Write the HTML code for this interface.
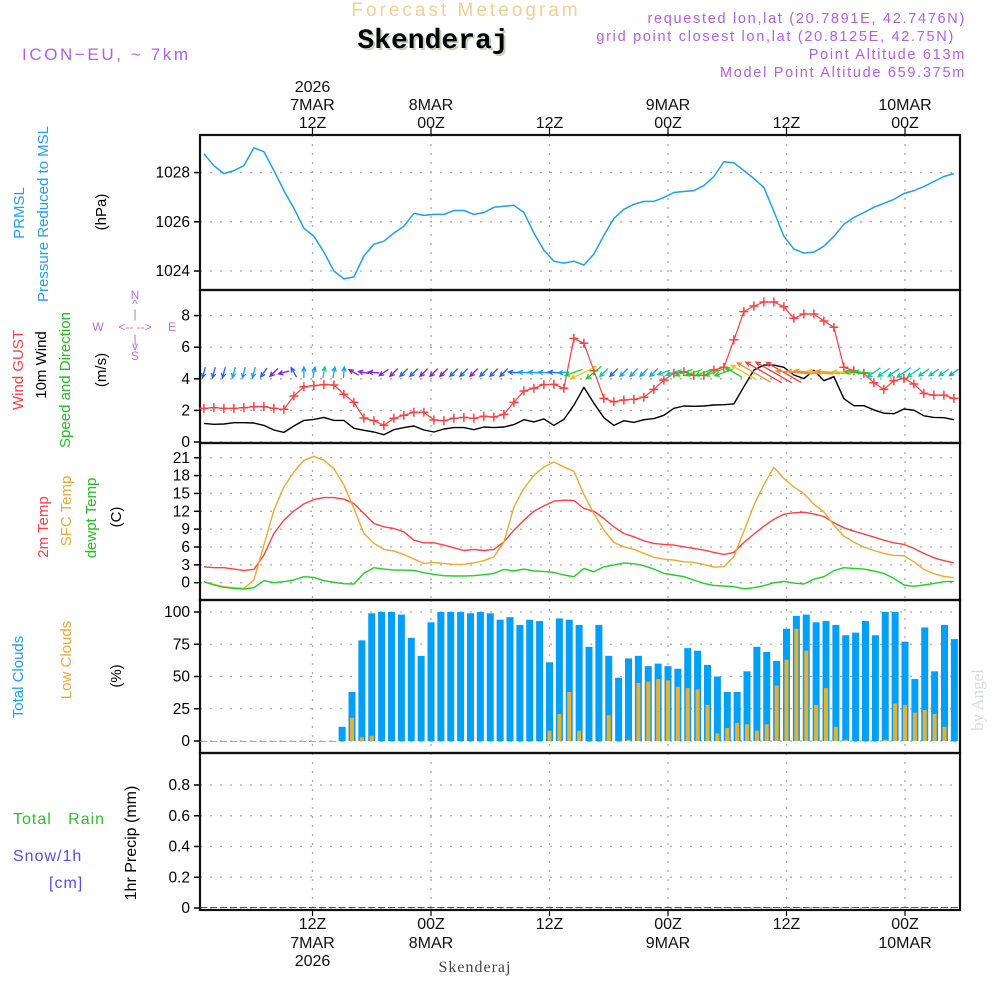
<!DOCTYPE html>
<html><head><meta charset="utf-8"><style>
html,body{margin:0;padding:0;background:#fff;}
svg{display:block;font-family:"Liberation Sans",sans-serif;}
</style></head><body>
<svg id="chart" width="1000" height="1000" viewBox="0 0 1000 1000">
<text x="466" y="16" font-size="19" fill="#f5cf8f" text-anchor="middle" letter-spacing="3">Forecast Meteogram</text>
<text x="435" y="50" font-size="28" font-weight="bold" fill="#c8d0c0" text-anchor="middle" font-family="Liberation Mono,monospace">Skenderaj</text>
<text x="433" y="48" font-size="28" font-weight="bold" fill="#000" text-anchor="middle" font-family="Liberation Mono,monospace">Skenderaj</text>
<text x="22" y="60" font-size="17" fill="#b060f0" letter-spacing="2.6">ICON−EU, ~ 7km</text>
<g font-size="14.5" fill="#b060f0" text-anchor="end" letter-spacing="1.7">
<text x="966" y="23">requested lon,lat (20.7891E, 42.7476N)</text>
<text x="955" y="41">grid point closest lon,lat (20.8125E, 42.75N)</text>
<text x="966" y="59">Point Altitude 613m</text>
<text x="966" y="77">Model Point Altitude 659.375m</text>
</g>
<!-- left labels -->
<g font-size="15">
<text transform="translate(24,213) rotate(-90)" text-anchor="middle" fill="#1ea0f0">PRMSL</text>
<text transform="translate(48,214) rotate(-90)" text-anchor="middle" fill="#1ea0f0">Pressure Reduced to MSL</text>
<text transform="translate(106,212) rotate(-90)" text-anchor="middle" fill="#000">(hPa)</text>
<text transform="translate(23,370) rotate(-90)" text-anchor="middle" fill="#ff4040">Wind GUST</text>
<text transform="translate(46,365) rotate(-90)" text-anchor="middle" fill="#000">10m Wind</text>
<text transform="translate(70,380) rotate(-90)" text-anchor="middle" fill="#20c020">Speed and Direction</text>
<text transform="translate(106,370) rotate(-90)" text-anchor="middle" fill="#000">(m/s)</text>
<text transform="translate(48,527) rotate(-90)" text-anchor="middle" fill="#ff4040">2m Temp</text>
<text transform="translate(71,511) rotate(-90)" text-anchor="middle" fill="#f0a830">SFC Temp</text>
<text transform="translate(96,518) rotate(-90)" text-anchor="middle" fill="#20c020">dewpt Temp</text>
<text transform="translate(121,517) rotate(-90)" text-anchor="middle" fill="#000">(C)</text>
<text transform="translate(23,677) rotate(-90)" text-anchor="middle" fill="#1ea0f0">Total Clouds</text>
<text transform="translate(71,660) rotate(-90)" text-anchor="middle" fill="#f0a830">Low Clouds</text>
<text transform="translate(121,676) rotate(-90)" text-anchor="middle" fill="#000">(%)</text>
<text x="13" y="824" fill="#30c030" font-size="16" letter-spacing="1" xml:space="preserve">Total   Rain</text>
<text x="13" y="861" fill="#5050f0" font-size="16" letter-spacing="1">Snow/1h</text>
<text x="49" y="888" fill="#5050f0" font-size="16" letter-spacing="1">[cm]</text>
<text transform="translate(136,843) rotate(-90)" text-anchor="middle" fill="#000" font-size="16">1hr Precip (mm)</text>
</g>
<g font-size="12" fill="#b070f0" text-anchor="middle">
<text x="135" y="299">N</text><text x="135" y="308">^</text><text x="135" y="318">|</text>
<text x="98" y="331">W</text><text x="135" y="331" xml:space="preserve">&lt;-- --&gt;</text><text x="172" y="331">E</text>
<text x="135" y="343">|</text><text x="135" y="350">v</text><text x="135" y="360">S</text>
</g>
<text transform="translate(983,700) rotate(-90)" font-size="17" fill="#d8dcd8" text-anchor="middle" font-family="Liberation Serif,serif">by Angel</text>
<text x="475" y="972" font-size="16" fill="#444" text-anchor="middle" letter-spacing="1" font-family="Liberation Serif,serif">Skenderaj</text>
<g id="plot"></g>
</svg>
<script>
// ---- data (samples ~hourly, starting 01Z 7MAR) ----
const pressure = [1028.77,1028.28,1027.96,1028.08,1028.28,1029.01,1028.85,1028.08,1027.27,1026.55,1025.74,1025.41,1024.77,1024.0,1023.68,1023.76,1024.61,1025.09,1025.21,1025.54,1025.82,1026.34,1026.26,1026.30,1026.30,1026.46,1026.46,1026.30,1026.38,1026.59,1026.63,1026.67,1026.38,1025.54,1024.85,1024.40,1024.32,1024.40,1024.24,1024.69,1025.45,1026.14,1026.51,1026.71,1026.83,1026.83,1026.99,1027.19,1027.23,1027.27,1027.47,1027.84,1028.44,1028.40,1028.08,1027.76,1027.39,1026.42,1025.41,1024.89,1024.73,1024.77,1025.01,1025.41,1025.90,1026.18,1026.38,1026.59,1026.75,1026.91,1027.15,1027.27,1027.43,1027.64,1027.84,1027.96];
const windSpeed = [1.18,1.12,1.14,1.22,1.22,1.20,1.05,0.76,0.61,1.01,1.37,1.43,1.56,1.37,1.37,0.87,0.74,0.63,0.46,0.78,0.91,1.01,0.76,0.63,0.82,0.91,0.91,0.78,0.95,0.91,0.95,1.10,1.41,1.27,1.46,1.05,1.43,2.33,3.46,2.45,1.54,1.05,1.35,1.24,1.41,1.48,1.69,2.13,2.28,2.26,2.28,2.34,2.36,2.41,3.50,4.56,4.87,4.87,4.73,4.24,4.01,4.54,3.88,4.13,2.74,2.30,2.30,2.03,1.82,1.79,2.09,2.01,1.66,1.56,1.54,1.41];
const windGust = [2.13,2.17,2.13,2.13,2.17,2.24,2.24,2.13,2.07,2.91,3.50,3.57,3.63,3.61,3.02,2.51,1.52,1.35,1.05,1.50,1.69,1.88,1.88,1.39,1.35,1.50,1.56,1.50,1.63,1.58,1.75,2.51,3.23,3.40,3.63,3.65,3.40,6.56,6.25,4.51,2.76,2.55,2.66,2.70,2.83,3.33,3.92,4.35,4.45,4.22,4.22,4.56,4.73,6.46,8.25,8.61,8.86,8.86,8.56,7.83,8.10,8.10,7.66,7.26,4.73,4.51,4.35,3.75,3.33,3.88,4.03,3.67,3.08,2.97,2.97,2.76];
const windDir = [255,255,255,255,255,255,235,225,195,120,90,80,80,80,85,150,170,175,215,225,225,225,225,225,225,225,225,225,225,225,225,175,175,175,175,175,185,200,205,220,225,225,225,225,225,225,200,200,200,200,200,200,200,150,150,150,150,150,150,175,175,175,175,175,175,175,175,215,215,215,215,215,215,215,215,215];
const temp2m = [2.68,2.52,2.52,2.29,2.07,2.24,4.64,8.27,10.51,12.07,13.25,13.97,14.31,14.31,14.03,13.30,11.63,9.95,9.39,9.11,8.55,7.15,6.71,6.71,6.32,5.87,5.42,5.59,5.42,5.59,6.88,8.83,10.51,12.02,12.91,13.69,13.86,13.81,12.47,12.02,10.79,9.39,8.27,7.71,7.04,6.60,6.43,6.32,6.04,5.76,5.48,5.09,4.75,5.09,6.76,8.16,9.50,10.68,11.51,11.74,11.85,11.57,11.12,10.06,9.22,8.66,8.16,7.66,7.15,6.71,6.43,5.76,4.92,4.19,3.69,3.35];
const tempSfc = [0.17,-0.28,-0.67,-0.84,-0.95,0.45,6.32,12.19,16.10,18.61,20.57,21.24,20.57,19.17,16.38,12.47,8.27,6.60,5.59,5.31,4.75,3.97,3.24,3.41,3.24,3.07,3.07,3.35,3.69,4.36,6.88,12.74,15.82,18.05,19.45,20.29,19.45,18.73,14.81,11.63,8.83,6.76,6.04,5.59,4.92,4.25,3.97,3.80,3.52,3.41,3.07,2.63,2.68,4.36,8.66,13.02,16.49,19.40,17.50,16.10,14.98,13.19,11.91,9.67,7.83,6.82,5.98,5.42,4.92,4.58,4.53,3.52,2.24,1.51,1.06,0.84];
const dewpt = [0.17,-0.39,-0.78,-0.95,-1.06,-0.84,0.34,0.0,0.17,0.45,1.01,0.89,0.34,0.06,-0.17,-0.22,1.57,2.52,2.29,2.12,2.12,2.07,1.68,1.40,1.17,1.12,1.12,1.17,1.34,1.57,2.24,1.96,2.29,1.96,1.90,1.73,1.29,1.01,2.40,1.84,2.68,2.96,3.30,3.19,2.85,2.29,1.57,1.29,1.01,0.45,-0.11,-0.45,-0.56,-0.67,-1.01,-0.84,-0.50,0.0,0.22,-0.06,-0.22,0.61,1.01,2.01,2.52,2.40,2.29,1.96,1.57,0.73,-0.39,-0.61,-0.39,-0.11,0.17,0.22];
const totalClouds = [0,0,0,0,0,0,0,0,0,0,0,0,0,0,11,38,78,99,100,100,98,80,66,92,100,100,100,99,100,99,94,96,90,94,93,61,95,94,90,73,90,66,49,64,66,58,60,58,56,72,70,59,50,38,38,54,73,69,62,87,97,98,92,93,90,82,84,93,82,100,100,77,48,88,54,90,79];
const lowClouds = [0,0,0,0,0,0,0,0,0,0,0,0,0,0,0,18,3,4,0,0,0,0,0,0,0,0,0,0,0,0,0,0,0,0,0,8,21,38,8,0,0,20,0,1,45,46,48,47,42,41,40,28,6,10,14,13,8,13,43,63,87,70,28,41,11,1,0,0,0,1,29,28,22,24,21,11,0];
const precip = [0,0,0,0,0,0,0,0,0,0,0,0,0,0,0,0,0,0,0,0,0,0,0,0,0,0,0,0,0,0,0,0,0,0,0,0,0,0,0,0,0,0,0,0,0,0,0,0,0,0,0,0,0,0,0,0,0,0,0,0,0,0,0,0,0,0,0,0,0,0,0,0,0,0,0,0,0];
const timeTicks = [12,24,36,48,60,72];
const tickHour = ["12Z","00Z","12Z","00Z","12Z","00Z"];
const tickDay = ["7MAR","8MAR","","9MAR","","10MAR"];
const pressTicks = [1024,1026,1028];
const windTicks = [0,2,4,6,8];
const tempTicks = [0,3,6,9,12,15,18,21];
const cloudTicks = [0,25,50,75,100];
const precipTicks = [0,0.2,0.4,0.6,0.8];

// ---- axes ----
const X = h => 431 + (h - 24) * 9.875;
const hourOf = i => i + 1;                 // hourly bars
const sampleHour = i => 1 + i * 10 / 9.875; // line samples (read every 10px)
const Yp = p => 271 - (p - 1024) * 24.6;
const Yw = v => 442 - v * 15.8;
const Yt = t => 582.7 - t * 5.95;
const Yc = c => 741 - c * 1.29;
const Yr = r => 908 - r * 153.75;
const L = 200, R = 960;
const panels = [
 {name:'pressure', top:135, bot:290, ticks:pressTicks, y:Yp, fmt:v=>String(v)},
 {name:'wind', top:290, bot:443, ticks:windTicks, y:Yw, fmt:v=>String(v)},
 {name:'temperature', top:443, bot:600, ticks:tempTicks, y:Yt, fmt:v=>String(v)},
 {name:'clouds', top:600, bot:753, ticks:cloudTicks, y:Yc, fmt:v=>String(v)},
 {name:'precip', top:753, bot:910, ticks:precipTicks, y:Yr, fmt:v=>v===0?'0':v.toFixed(1)}
];
const NS = 'http://www.w3.org/2000/svg';
const plot = document.getElementById('plot');
function mk(tag, attrs, parent) {
  const e = document.createElementNS(NS, tag);
  for (const k in attrs) e.setAttribute(k, attrs[k]);
  (parent || plot).appendChild(e);
  return e;
}
panels.forEach(p => {
  const g = mk('g', {});
  
  
  p.ticks.forEach(v => {
    const y = p.y(v);
    const gl = mk('line', {x1:L, x2:R, y1:y, y2:y, stroke:'#aaa', 'stroke-width':1.3, 'stroke-dasharray':'2,8'}, g);
    
    
    mk('line', {x1:L-6, x2:L, y1:y, y2:y, stroke:'#000', 'stroke-width':1.5}, g);
    const t = mk('text', {x:L-10, y:y+5, 'font-size':15.5, 'text-anchor':'end', fill:'#000'}, g);
    t.textContent = p.fmt(v);
    
    
  });
  timeTicks.forEach(h => {
    mk('line', {x1:X(h), x2:X(h), y1:p.top, y2:p.bot, stroke:'#aaa', 'stroke-width':1.3, 'stroke-dasharray':'2,7'}, g);
  });
  const fr = mk('rect', {x:L, y:p.top, width:R-L, height:p.bot-p.top, fill:'none', stroke:'#111', 'stroke-width':2.2}, g);
  
  
});
timeTicks.forEach((h, i) => {
  const x = X(h);
  mk('line', {x1:x, x2:x, y1:128, y2:135, stroke:'#000', 'stroke-width':1.2});
  mk('line', {x1:x, x2:x, y1:910, y2:916, stroke:'#000', 'stroke-width':1.2});
  const t1 = mk('text', {x:x, y:128, 'font-size':16, 'text-anchor':'middle', fill:'#111'});
  t1.textContent = tickHour[i];
  
  
  if (tickDay[i]) {
    const t2 = mk('text', {x:x, y:110, 'font-size':16, 'text-anchor':'middle', fill:'#111'});
    t2.textContent = tickDay[i];
    
    
    const t4 = mk('text', {x:x, y:948, 'font-size':16, 'text-anchor':'middle', fill:'#111'});
    t4.textContent = tickDay[i];
    
    
  }
  const t3 = mk('text', {x:x, y:929, 'font-size':16, 'text-anchor':'middle', fill:'#111'});
  t3.textContent = tickHour[i];
  
  
});
{
  const a = mk('text', {x:X(12), y:92, 'font-size':16, 'text-anchor':'middle', fill:'#111'});
  a.textContent = '2026';
  
  
  const b = mk('text', {x:X(12), y:966, 'font-size':16, 'text-anchor':'middle', fill:'#111'});
  b.textContent = '2026';
  
  
}
function line(arr, yf, color, name, w) {
  const pts = arr.map((v, i) => X(sampleHour(i)).toFixed(1) + ',' + yf(v).toFixed(1)).join(' ');
  const pl = mk('polyline', {points:pts, fill:'none', stroke:color, 'stroke-width':w || 1.4, 'stroke-linejoin':'round'});
  
  
}
line(pressure, Yp, '#1ea0f0', 'pressure-line', 1.5);
line(windSpeed, Yw, '#000', 'wind-speed-line', 1.4);
line(windGust, Yw, '#ff4040', 'wind-gust-line', 1.2);
windGust.forEach((v, i) => {
  const x = X(sampleHour(i)), y = Yw(v);
  const m = mk('path', {d:`M${x-4.5},${y}H${x+4.5}M${x},${y-4.5}V${y+4.5}`, stroke:'#ff4040', 'stroke-width':1.5});
  
  
});
function windColor(s) {
  if (s < 0.9) return '#8020e0';
  if (s < 1.2) return '#2860f0';
  if (s < 1.5) return '#10a0ff';
  if (s < 2.2) return '#10c8a0';
  if (s < 2.6) return '#20d020';
  if (s < 4.0) return '#f0c020';
  if (s < 4.6) return '#f09030';
  return '#f04040';
}
windDir.forEach((d, i) => {
  const s = windSpeed[i];
  const len = 11 + 9 * Math.max(0, s - 1.5);
  const a = d * Math.PI / 180;
  const cx = X(sampleHour(i)), cy = Yw(4.4);
  const dx = Math.cos(a), dy = -Math.sin(a);
  const x1 = cx - dx * len / 2, y1 = cy - dy * len / 2, x2 = cx + dx * len / 2, y2 = cy + dy * len / 2;
  const hx = 5, b1 = a + Math.PI - 0.45, b2 = a + Math.PI + 0.45;
  const d3 = `M${x1},${y1}L${x2},${y2}M${x2 + Math.cos(b1)*hx},${y2 - Math.sin(b1)*hx}L${x2},${y2}L${x2 + Math.cos(b2)*hx},${y2 - Math.sin(b2)*hx}`;
  const ar = mk('path', {d:d3, stroke:windColor(s), 'stroke-width':1.3, fill:'none'});
  
  
});
line(temp2m, Yt, '#ff4040', 'temp-2m-line', 1.4);
line(tempSfc, Yt, '#f0a830', 'temp-sfc-line', 1.4);
line(dewpt, Yt, '#20d020', 'dewpoint-line', 1.4);
totalClouds.forEach((v, i) => {
  const x = X(hourOf(i));
  const b = mk('rect', {x:x-3.5, y:Yc(v), width:7, height:Math.max(1, Yc(0)-Yc(v)), fill:v>0?'#009ff8':'#8ab'});
  
  
});
lowClouds.forEach((v, i) => {
  const x = X(hourOf(i));
  const b = mk('rect', {x:x-2, y:Yc(v), width:4, height:Math.max(1, Yc(0)-Yc(v)), fill:'#e8b030'});
  
  
});
precip.forEach((v, i) => {
  const x = X(hourOf(i));
  const b = mk('rect', {x:x-3.5, y:Yr(v)-1, width:7, height:Math.max(1, Yr(0)-Yr(v)), fill:'#555'});
  
  
});
</script>
</body></html>
